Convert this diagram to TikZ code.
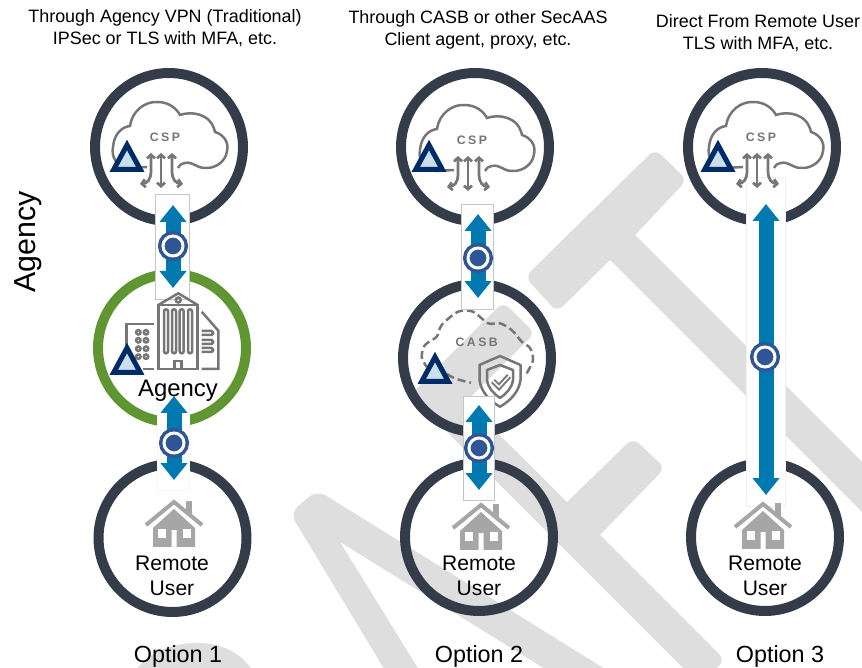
\documentclass[tikz,border=0pt]{standalone}
\usepackage{fontspec}
\setmainfont{Liberation Sans}
\newfontfamily\iconfont[LetterSpace=20]{Liberation Sans}
\usetikzlibrary{arrows.meta}
\definecolor{ringdark}{HTML}{333C48}
\definecolor{ringgreen}{HTML}{5F9632}
\definecolor{linkblue}{HTML}{0079B1}
\definecolor{badgeblue}{HTML}{2F5597}
\definecolor{marknavy}{HTML}{002B66}
\definecolor{marklight}{HTML}{C9DFEC}
\definecolor{icongray}{HTML}{767676}
\definecolor{housegray}{HTML}{A6A6A6}
\definecolor{draftgray}{HTML}{DEDEDE}
\tikzset{
  ring/.style={circle,draw=ringdark,line width=0.2cm,minimum size=2.96cm,inner sep=0pt},
  armbox/.style={rectangle,fill=white,draw=#1,line width=0.5pt,inner sep=0pt,outer sep=0pt},
  link/.style={draw=linkblue,line width=0.3cm,{Triangle[width=0.52cm,length=0.34cm]}-{Triangle[width=0.52cm,length=0.34cm]}},
  badge/.style={circle,fill=badgeblue,draw=badgeblue,line width=0.07cm,double=white,double distance=0.06cm,minimum size=0.4cm,inner sep=0pt},
  captext/.style={font=\fontsize{10.2}{12.4}\selectfont,align=center},
  usertext/.style={font=\fontsize{12}{14.2}\selectfont,align=center},
  opttext/.style={font=\fontsize{13.3}{15}\selectfont},
  icontext/.style={font=\iconfont\bfseries\fontsize{7}{8}\selectfont,text=icongray},
  iconline/.style={draw=icongray,line width=0.05cm},
  iconarrow/.style={iconline,line width=0.055cm,{Straight Barb[length=0.07cm,width=0.16cm]}-{Straight Barb[length=0.07cm,width=0.16cm]}},
  trimark/.pic={
    \draw[draw=marknavy,fill=marklight,line width=0.1cm,miter limit=10] (0,-27) -- (-13.3,-2.5) -- (13.3,-2.5) -- cycle;
  },
  cspcloud/.pic={
    \draw[iconline] (-22,20) -- (-40,21) .. controls (-52,21) and (-58,10) .. (-56,0)
      .. controls (-55,-12) and (-48,-20) .. (-39,-21) .. controls (-37,-36) and (-24,-46) .. (-11,-45)
      .. controls (0,-45) and (8,-38) .. (11,-32) .. controls (22,-36) and (42,-34) .. (46,-15)
      .. controls (56,-12) and (60,-3) .. (58,4) .. controls (57,14) and (47,21) .. (38,21)
      .. controls (28,22) and (24,14) .. (16,16) .. controls (12,17) and (10,18) .. (9,21);
    \draw[iconarrow] (-8,6) -- (-8,41);
    \draw[iconarrow] (-18,6) -- (-18,24) .. controls (-18,33) and (-22,36) .. (-29,37);
    \draw[iconarrow] (3,6) -- (3,24) .. controls (3,33) and (7,36) .. (14,37);
    \node[icontext] (-cap) at (-4,-9.5) {CSP};
  },
  homeicon/.pic={
    \fill[housegray] (-21,0) -- (-21,-19) -- (0,-38) -- (21,-19) -- (21,0) -- (2.5,0) -- (2.5,-17) -- (-2.5,-17) -- (-2.5,0) -- cycle;
    \fill[white] (-16.5,-18) rectangle (-8.5,-9);
    \fill[white] (8.5,-18) rectangle (16.5,-9);
    \fill[housegray] (12,-46) rectangle (18,-32);
    \draw[draw=housegray,line width=0.08cm] (-28,-22) -- (0,-45) -- (28,-22);
  }
}
\begin{document}
\begin{tikzpicture}[x=0.02cm,y=-0.02cm]
\useasboundingbox (0,0) rectangle (862,668);

% Watermark
\begin{scope}
\clip (0,0) rectangle (862,668);
\fill[draftgray,rounded corners=0.16cm] (525,277) -- (655,149) -- (687,180) [sharp corners] -- (635,235) -- (950,550) -- (900,550) -- (610,260) [rounded corners=0.16cm] -- (557,312) -- cycle;
\fill[draftgray,rounded corners=0.16cm] (410,395) -- (503,302) -- (535,333) [sharp corners] -- (466,401.5) -- (567,502) [rounded corners=0.16cm] -- (633,438) -- (665,468) [sharp corners] -- (600,535) [rounded corners=0.16cm] -- (725,660) -- (700,685) -- cycle;
\fill[draftgray,rounded corners=0.2cm] (290,513) -- (317,490) [sharp corners] -- (700,728) -- (600,703) -- (340,542) -- (450,720) -- (415,720) [rounded corners=0.2cm] -- cycle;
\fill[draftgray] (125,690) .. controls (140,650) and (175,643) .. (197,643) .. controls (225,643) and (250,655) .. (262,690) -- cycle;
\end{scope}

% Rings
\node[ring] (csp1) at (169,147) {};
\node[ring,draw=ringgreen] (agency1) at (172,348) {};
\node[ring] (remote1) at (172.5,538) {};
\node[ring] (csp2) at (475,147) {};
\node[ring] (casb2) at (477,358) {};
\node[ring] (remote2) at (479,537) {};
\node[ring] (csp3) at (762,147) {};
\node[ring] (remote3) at (765,537) {};

% CASB cloud and shield
\draw[iconline,dash pattern=on 0.16cm off 0.08cm] plot[smooth] coordinates {(526.7,373.3) (533,360) (530,348) (521.7,341.7) (511.7,330) (500,323.3) (488,323.3) (473,311.7) (458,311.7) (441.7,325) (436.7,336.7) (425,345) (421.7,356.7) (426.7,367)};
\draw[iconline,dash pattern=on 0.16cm off 0.08cm] (447,374) .. controls (452,378) and (462,381) .. (471,382.7);
\node[icontext] (casbcap) at (476.7,342.7) {CASB};
\draw[iconline,line join=round] (500,356) -- (520.5,365) -- (520.5,380) .. controls (519,392) and (510,401) .. (500,406.7) .. controls (490,401) and (481,392) .. (479.5,380) -- (479.5,365) -- cycle;
\draw[iconline,line join=round] (500,365) -- (513,370) -- (513,380) .. controls (512,388) and (506,394) .. (500,398) .. controls (494,394) and (488,388) .. (487,380) -- (487,370) -- cycle;
\draw[iconline,line width=0.11cm] (493,381) -- (499,387) -- (509,376);
\draw[white,line width=0.03cm] (493,381) -- (499,387) -- (509,376);

% Boxes behind the links
\node[armbox=gray!45,minimum width=0.68cm,minimum height=2.1cm] (box1a) at (172,246.5) {};
\node[armbox=gray!6,minimum width=0.64cm,minimum height=1.92cm] (box1b) at (173,442) {};
\node[armbox=gray!45,minimum width=0.64cm,minimum height=2.1cm] (box2a) at (477,256.5) {};
\node[armbox=gray!45,minimum width=0.62cm,minimum height=2.08cm] (box2b) at (478.5,448) {};
\node[armbox=gray!12,minimum width=0.78cm,minimum height=6.58cm] (box3) at (765.5,341.5) {};

% Clouds
\pic (cloud1) at (169,147) {cspcloud};
\pic (cloud2) at (476,150) {cspcloud};
\pic (cloud3) at (765,147) {cspcloud};

% Agency building
\draw[iconline] (158.3,369) rectangle (197.7,305);
\draw[iconline] (158.3,305) -- (178.3,293.3) -- (197.7,305);
\draw[iconline] (178.3,300) circle (2.5);
\draw[iconline,rounded corners=0.04cm] (164,309.3) rectangle (168,353.3);
\draw[iconline,rounded corners=0.04cm] (172,309.3) rectangle (176,353.3);
\draw[iconline,rounded corners=0.04cm] (179.7,309.3) rectangle (183.7,353.3);
\draw[iconline,rounded corners=0.04cm] (188,309.3) rectangle (192,353.3);
\draw[iconline] (174.3,369) -- (174.3,361) -- (181.7,361) -- (181.7,369);
\draw[iconline] (154,324) -- (126.7,324) -- (126.7,347);
\draw[iconline] (143.3,369) -- (154,369);
\draw[iconline] (138.3,332.3) circle (2.2);
\draw[iconline] (146,332.3) circle (2.2);
\draw[iconline] (138.3,340.3) circle (2.2);
\draw[iconline] (146,340.3) circle (2.2);
\draw[iconline] (138.3,348.7) circle (2.2);
\draw[iconline] (146,348.7) circle (2.2);
\draw[iconline] (138.3,356.7) circle (2.2);
\draw[iconline] (146,356.7) circle (2.2);
\draw[iconline] (201.7,311.7) -- (218.3,330.7) -- (218.3,369) -- (201.7,369);
\draw[iconline,rounded corners=0.03cm] (201.7,331) -- (213,331) -- (213,335) -- (201.7,335);
\draw[iconline,rounded corners=0.03cm] (201.7,340) -- (213,340) -- (213,344) -- (201.7,344);
\draw[iconline,rounded corners=0.03cm] (201.7,348) -- (213,348) -- (213,352) -- (201.7,352);

% Remote user houses
\pic (home1) at (174,547) {homeicon};
\pic (home2) at (481,550) {homeicon};
\pic (home3) at (763,549) {homeicon};

% Trust marks
\pic (mark1) at (127,172) {trimark};
\pic (mark2) at (429,172) {trimark};
\pic (mark3) at (718,172) {trimark};
\pic (mark4) at (127,375) {trimark};
\pic (mark5) at (435,384) {trimark};

% Links
\coordinate (top1a) at (173,205);
\coordinate (bot1a) at (173,288);
\coordinate (top1b) at (174,396);
\coordinate (bot1b) at (174,480);
\coordinate (top2a) at (478,214);
\coordinate (bot2a) at (478,298);
\coordinate (top2b) at (479,405);
\coordinate (bot2b) at (479,490);
\coordinate (top3) at (766,204);
\coordinate (bot3) at (766,495);
\draw[link] (top1a) -- (bot1a);
\draw[link] (top1b) -- (bot1b);
\draw[link] (top2a) -- (bot2a);
\draw[link] (top2b) -- (bot2b);
\draw[link] (top3) -- (bot3);

% Badges
\node[badge] (badge1a) at (173,246) {};
\node[badge] (badge1b) at (174,443) {};
\node[badge] (badge2a) at (478,258) {};
\node[badge] (badge2b) at (479,448) {};
\node[badge] (badge3) at (765,357) {};

% Labels
\node[captext] (head1) at (165,28.5) {Through Agency VPN (Traditional)\\IPSec or TLS with MFA, etc.};
\node[captext] (head2) at (478,30) {Through CASB or other SecAAS\\Client agent, proxy, etc.};
\node[captext] (head3) at (758,33) {Direct From Remote User\\TLS with MFA, etc.};
\node[rotate=90,font=\fontsize{17.3}{20}\selectfont] (side) at (28,242) {Agency};
\node[font=\fontsize{13.6}{16}\selectfont] (agencytext) at (178,391) {Agency};
\node[usertext] (user1) at (172,575.5) {Remote\\User};
\node[usertext] (user2) at (479,576) {Remote\\User};
\node[usertext] (user3) at (765,575.5) {Remote\\User};
\node[opttext] (opt1) at (178,656) {Option 1};
\node[opttext] (opt2) at (479,656) {Option 2};
\node[opttext] (opt3) at (780,656) {Option 3};
\end{tikzpicture}
\end{document}
